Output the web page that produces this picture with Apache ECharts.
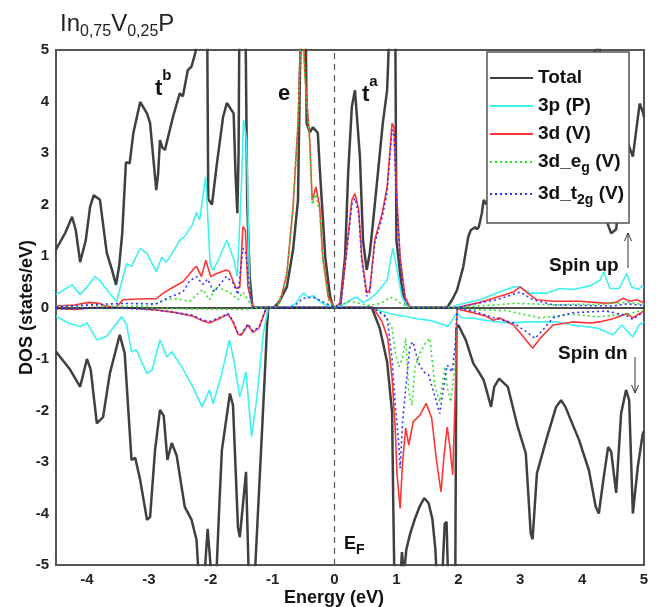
<!DOCTYPE html>
<html><head><meta charset="utf-8">
<script src="https://cdn.jsdelivr.net/npm/echarts@6/dist/echarts.min.js"></script>
<style>html,body{margin:0;padding:0;background:#fff}#c{width:656px;height:607px}</style>
</head><body><div id="c"></div><script>
// ---- data (energy eV, DOS states/eV) ----
const xTicks = [-4,-3,-2,-1,0,1,2,3,4,5];
const legendNames = ['Total','3p (P)','3d (V)','3d_eg (V)','3d_t2g (V)'];

const totalUp = [[-4.5,1.12],[-4.48,1.17],[-4.35,1.45],[-4.24,1.76],[-4.18,1.5],[-4.11,0.88],[-4.02,1.3],[-3.95,1.95],[-3.89,2.18],[-3.79,2.09],[-3.68,1.06],[-3.6,0.75],[-3.53,0.44],[-3.48,0.8],[-3.43,1.44],[-3.37,2.82],[-3.31,2.8],[-3.25,3.39],[-3.14,3.99],[-3.03,3.77],[-2.98,3.58],[-2.92,2.8],[-2.88,2.28],[-2.85,2.6],[-2.82,3.25],[-2.78,3.1],[-2.74,3.06],[-2.61,3.7],[-2.5,4.16],[-2.45,4.1],[-2.37,4.61],[-2.31,4.68],[-2.25,4.94],[-2.2,5.3],[-2.12,6.5],[-2.06,6.0],[-2.04,2.1],[-1.98,2.0],[-1.9,2.8],[-1.8,3.7],[-1.74,3.97],[-1.63,3.77],[-1.6,2.6],[-1.57,1.83],[-1.55,3.0],[-1.53,7.0],[-1.45,7.0],[-1.41,2.0],[-1.37,0.6],[-1.33,0.05],[-1.3,0],[-0.98,0],[-0.9,0.1],[-0.77,0.4],[-0.67,1.12],[-0.59,2.09],[-0.56,4.5],[-0.52,6.5],[-0.47,6.0],[-0.45,3.58],[-0.4,3.4],[-0.35,3.5],[-0.32,3.5],[-0.27,3.39],[-0.24,2.73],[-0.2,1.96],[-0.15,0.98],[-0.07,0.2],[-0.02,0],[0.09,0],[0.17,0.98],[0.22,2.6],[0.28,3.9],[0.33,4.22],[0.36,4.2],[0.41,2.93],[0.46,1.31],[0.52,0.73],[0.57,1.06],[0.62,1.63],[0.7,2.6],[0.78,3.58],[0.85,4.22],[0.88,5.2],[0.92,7.0],[0.98,6.0],[1.0,1.31],[1.09,0.34],[1.15,0.08],[1.22,0],[1.82,0],[1.9,0.15],[1.98,0.34],[2.08,0.79],[2.16,1.37],[2.2,1.5],[2.27,1.56],[2.3,1.52],[2.33,1.56],[2.38,1.83],[2.41,2.09],[2.45,2.0],[2.6,2.6],[2.8,3.2],[3.0,3.6],[3.3,4.0],[3.6,4.2],[3.9,4.5],[4.1,4.8],[4.28,5.1],[4.35,3.5],[4.42,1.6],[4.47,1.44],[4.55,1.52],[4.6,2.09],[4.74,3.19],[4.82,2.93],[4.93,3.96],[4.98,3.8],[5.0,3.7]];

const totalDn = [[-4.5,-0.85],[-4.48,-0.89],[-4.27,-1.21],[-4.11,-1.54],[-4.0,-1.0],[-3.94,-1.2],[-3.84,-2.25],[-3.74,-2.13],[-3.63,-1.28],[-3.47,-0.53],[-3.39,-0.89],[-3.28,-2.96],[-3.22,-2.92],[-3.14,-3.35],[-3.03,-4.12],[-2.98,-4.07],[-2.9,-2.77],[-2.82,-1.99],[-2.76,-2.1],[-2.7,-2.96],[-2.63,-2.63],[-2.55,-2.88],[-2.42,-3.87],[-2.31,-4.12],[-2.23,-4.51],[-2.18,-5.5],[-2.1,-5.2],[-2.05,-4.3],[-2.02,-4.27],[-1.97,-5.5],[-1.92,-5.5],[-1.86,-3.8],[-1.82,-2.77],[-1.69,-1.67],[-1.64,-1.9],[-1.56,-4.27],[-1.53,-4.46],[-1.43,-3.19],[-1.38,-5.5],[-1.3,-5.5],[-1.2,-3.09],[-1.12,-1.15],[-1.09,-0.35],[-1.07,0],[0.6,0],[0.73,-0.4],[0.85,-1.06],[0.93,-2.03],[0.95,-3.9],[0.97,-5.5],[1.06,-5.3],[1.09,-4.75],[1.12,-5.2],[1.16,-4.7],[1.22,-4.4],[1.3,-4.1],[1.38,-3.85],[1.45,-3.7],[1.52,-3.8],[1.58,-4.1],[1.63,-4.7],[1.66,-5.5],[1.73,-5.5],[1.78,-4.2],[1.81,-4.16],[1.84,-5.5],[1.95,-5.5],[1.97,-0.4],[2.0,-0.34],[2.12,-0.63],[2.24,-1.08],[2.33,-1.25],[2.41,-1.41],[2.53,-1.93],[2.58,-1.54],[2.66,-1.38],[2.8,-1.54],[2.96,-2.32],[3.09,-2.83],[3.17,-4.39],[3.2,-4.5],[3.27,-3.22],[3.42,-2.57],[3.58,-1.93],[3.66,-1.8],[3.73,-1.93],[3.95,-2.57],[4.11,-3.16],[4.22,-3.87],[4.27,-4.0],[4.35,-3.29],[4.42,-2.71],[4.47,-2.8],[4.55,-3.6],[4.63,-2.06],[4.71,-1.6],[4.76,-1.8],[4.82,-4.0],[4.9,-3.09],[4.98,-2.45],[5.0,-2.4]];

const pUp = [[-4.5,0.25],[-4.48,0.28],[-4.35,0.36],[-4.24,0.44],[-4.11,0.25],[-4.0,0.4],[-3.87,0.6],[-3.79,0.52],[-3.65,0.3],[-3.52,0.11],[-3.45,0.45],[-3.36,0.85],[-3.28,0.8],[-3.14,1.15],[-3.03,1.05],[-2.88,0.69],[-2.79,0.98],[-2.72,0.88],[-2.6,1.1],[-2.5,1.31],[-2.42,1.38],[-2.3,1.6],[-2.23,1.85],[-2.18,1.7],[-2.08,2.54],[-2.01,0.85],[-1.96,0.72],[-1.85,1.0],[-1.74,1.31],[-1.63,0.94],[-1.57,0.6],[-1.5,2.5],[-1.47,3.64],[-1.42,3.25],[-1.37,0.2],[-1.32,0],[-0.75,0],[-0.62,0.08],[-0.56,0.2],[-0.5,0.28],[-0.43,0.2],[-0.34,0.23],[-0.26,0.13],[-0.15,0.05],[0,0],[0.1,0.03],[0.2,0.1],[0.3,0.18],[0.36,0.2],[0.46,0.1],[0.55,0.15],[0.68,0.28],[0.85,0.53],[0.94,1.15],[1.0,0.8],[1.09,0.2],[1.2,0],[1.9,0],[1.98,0.05],[2.35,0.15],[2.62,0.28],[2.89,0.4],[3.0,0.4],[3.16,0.28],[3.43,0.28],[3.64,0.37],[3.85,0.35],[4.13,0.42],[4.29,0.53],[4.35,0.69],[4.45,0.37],[4.6,0.37],[4.72,0.66],[4.8,0.4],[4.91,0.35],[4.97,0.42],[5.0,0.4]];

const pDn = [[-4.5,-0.17],[-4.48,-0.18],[-4.3,-0.3],[-4.11,-0.37],[-4.0,-0.3],[-3.84,-0.63],[-3.68,-0.56],[-3.55,-0.35],[-3.44,-0.18],[-3.36,-0.33],[-3.28,-0.86],[-3.2,-0.82],[-3.1,-1.1],[-3.03,-1.28],[-2.95,-1.22],[-2.82,-0.63],[-2.71,-0.96],[-2.63,-0.86],[-2.47,-1.15],[-2.29,-1.54],[-2.14,-1.93],[-2.02,-1.6],[-1.96,-1.87],[-1.82,-1.28],[-1.7,-0.63],[-1.63,-1.0],[-1.53,-1.74],[-1.43,-1.25],[-1.34,-2.51],[-1.26,-1.8],[-1.15,-0.5],[-1.07,0],[0.57,0],[0.85,-0.1],[0.93,-0.13],[1.17,-0.18],[1.33,-0.22],[1.54,-0.25],[1.7,-0.31],[1.83,-0.37],[1.9,-0.25],[1.98,-0.1],[2.05,-0.2],[2.24,-0.21],[2.45,-0.25],[2.78,-0.3],[3.1,-0.28],[3.3,-0.28],[3.6,-0.28],[3.85,-0.34],[4.24,-0.4],[4.5,-0.53],[4.64,-0.34],[4.82,-0.57],[4.92,-0.34],[5.0,-0.28]];

const dUp = [[-4.5,0.03],[-4.2,0.05],[-3.97,0.1],[-3.8,0.08],[-3.7,0.03],[-3.53,0],[-3.42,0.15],[-3.05,0.17],[-2.88,0.17],[-2.77,0.28],[-2.67,0.35],[-2.45,0.5],[-2.29,0.73],[-2.23,0.8],[-2.15,0.6],[-2.08,0.92],[-2.0,0.6],[-1.92,0.65],[-1.75,0.73],[-1.7,0.7],[-1.59,0.37],[-1.53,0.4],[-1.48,1.57],[-1.44,1.5],[-1.4,0.4],[-1.32,0.03],[-1.28,0],[-0.93,0],[-0.85,0.25],[-0.77,0.66],[-0.67,1.96],[-0.59,3.58],[-0.55,5.2],[-0.51,5.6],[-0.48,4.55],[-0.4,3.25],[-0.37,2.34],[-0.36,2.08],[-0.3,2.34],[-0.24,1.96],[-0.19,0.98],[-0.1,0.2],[0,0],[0.1,0.1],[0.2,1.17],[0.28,2.09],[0.33,2.21],[0.39,1.9],[0.44,0.98],[0.52,0.28],[0.57,0.35],[0.65,1.31],[0.77,1.83],[0.85,2.34],[0.93,3.58],[0.96,3.5],[1.0,2.28],[1.06,0.98],[1.14,0.2],[1.22,0],[1.98,0],[2.35,0.1],[2.62,0.2],[2.89,0.3],[3.0,0.4],[3.1,0.3],[3.27,0.15],[3.54,0.12],[3.97,0.12],[4.4,0.08],[4.55,0.1],[4.66,0.18],[4.77,0.12],[4.88,0.15],[4.98,0.1],[5.0,0.1]];

const dDn = [[-4.5,-0.02],[-4.2,-0.04],[-3.9,0],[-3.42,0],[-3.2,-0.02],[-2.88,-0.05],[-2.56,-0.1],[-2.29,-0.17],[-2.13,-0.26],[-2.02,-0.3],[-1.87,-0.22],[-1.72,-0.13],[-1.64,-0.28],[-1.56,-0.52],[-1.51,-0.54],[-1.4,-0.34],[-1.32,-0.48],[-1.22,-0.4],[-1.1,0],[0.62,0],[0.77,-0.28],[0.86,-0.6],[0.93,-1.37],[0.98,-2.34],[1.01,-3.25],[1.06,-3.9],[1.1,-3.0],[1.15,-2.34],[1.2,-2.67],[1.27,-2.22],[1.38,-2.09],[1.48,-1.86],[1.57,-2.15],[1.65,-3.0],[1.72,-3.58],[1.77,-2.87],[1.82,-2.32],[1.86,-2.67],[1.91,-3.25],[1.95,-1.7],[1.98,0],[2.05,-0.05],[2.24,-0.1],[2.45,-0.17],[2.57,-0.25],[2.66,-0.2],[2.89,-0.34],[3.05,-0.57],[3.2,-0.79],[3.32,-0.6],[3.53,-0.34],[3.85,-0.28],[4.13,-0.3],[4.28,-0.28],[4.5,-0.22],[4.72,-0.12],[4.82,-0.2],[4.98,-0.08],[5.0,-0.08]];

const egUp = [[-4.5,0.02],[-4.0,0.04],[-3.5,0.02],[-3.0,0.03],[-2.72,0.15],[-2.56,0.17],[-2.34,0.12],[-2.13,0.35],[-2.02,0.15],[-1.92,0.4],[-1.7,0.3],[-1.56,0.15],[-1.48,0.3],[-1.4,0.15],[-1.32,0],[-0.93,0],[-0.85,0.25],[-0.77,0.64],[-0.67,1.9],[-0.59,3.5],[-0.55,5.1],[-0.51,5.5],[-0.48,4.45],[-0.4,3.15],[-0.37,2.25],[-0.36,2.0],[-0.3,2.2],[-0.24,1.85],[-0.19,0.9],[-0.1,0.15],[0,0],[0.1,0.05],[0.25,0.12],[0.4,0.08],[0.55,0.04],[0.75,0.08],[0.9,0.2],[1.0,0.15],[1.1,0.05],[1.22,0],[1.98,0],[2.3,0.03],[2.6,0.05],[2.89,0.08],[3.2,0.07],[3.5,0.05],[3.85,0.06],[4.3,0.06],[4.72,0.1],[5.0,0.06]];

const egDn = [[-4.5,-0.02],[-3.0,-0.02],[-2.0,-0.03],[-1.5,-0.04],[-1.1,0],[0.62,0],[0.82,-0.15],[0.93,-0.4],[0.98,-0.87],[1.04,-1.15],[1.1,-0.98],[1.15,-0.6],[1.2,-1.64],[1.25,-1.9],[1.3,-1.15],[1.38,-0.89],[1.48,-0.67],[1.54,-0.6],[1.62,-1.51],[1.7,-1.83],[1.78,-1.15],[1.83,-1.6],[1.88,-1.83],[1.95,-1.06],[1.98,0],[2.24,-0.04],[2.78,-0.06],[3.0,-0.12],[3.32,-0.2],[3.85,-0.13],[4.24,-0.18],[4.72,-0.13],[5.0,-0.05]];

const t2gUp = [[-4.5,0.01],[-3.97,0.05],[-3.42,0.08],[-2.88,0.07],[-2.67,0.2],[-2.45,0.3],[-2.34,0.52],[-2.23,0.6],[-2.13,0.45],[-2.05,0.55],[-1.95,0.3],[-1.75,0.6],[-1.64,0.48],[-1.56,0.25],[-1.48,1.15],[-1.43,1.05],[-1.37,0.28],[-1.32,0],[-0.7,0],[-0.6,0.08],[-0.51,0.18],[-0.34,0.2],[-0.2,0.12],[0,0],[0.1,0.08],[0.2,1.1],[0.28,2.0],[0.33,2.12],[0.39,1.82],[0.44,0.9],[0.52,0.22],[0.57,0.3],[0.65,1.25],[0.77,1.75],[0.85,2.25],[0.93,3.45],[0.96,3.38],[1.0,2.15],[1.06,0.9],[1.14,0.15],[1.22,0],[1.98,0],[2.3,0.08],[2.62,0.15],[3.0,0.3],[3.21,0.15],[3.54,0.05],[4.0,0.04],[4.5,0.03],[4.72,0.07],[5.0,0.04]];

const t2gDn = [[-4.5,-0.02],[-4.2,-0.03],[-3.9,-0.01],[-3.42,-0.01],[-2.88,-0.05],[-2.56,-0.1],[-2.29,-0.15],[-2.13,-0.24],[-2.02,-0.27],[-1.87,-0.2],[-1.72,-0.12],[-1.64,-0.26],[-1.56,-0.5],[-1.51,-0.52],[-1.4,-0.32],[-1.32,-0.46],[-1.22,-0.38],[-1.1,0],[0.62,0],[0.85,-0.2],[0.93,-1.0],[0.98,-1.86],[1.04,-2.67],[1.06,-3.12],[1.1,-2.22],[1.15,-1.56],[1.22,-0.73],[1.27,-0.67],[1.35,-1.06],[1.44,-1.25],[1.52,-1.31],[1.6,-1.64],[1.7,-2.06],[1.76,-1.57],[1.82,-1.12],[1.9,-1.25],[1.95,-0.73],[1.98,0],[2.24,-0.07],[2.57,-0.2],[2.89,-0.3],[3.1,-0.47],[3.24,-0.6],[3.32,-0.5],[3.53,-0.2],[3.85,-0.1],[4.4,-0.07],[4.72,-0.16],[4.82,-0.23],[5.0,-0.08]];

// ---- styles ----
const FONT = 'Liberation Sans, Arial, sans-serif';
const C = {total:'#404040', p:'#3ef2f2', d:'#ff3535', eg:'#2ee02e', t2g:'#3030ff'};

function line(name, data, color, width, type, z){
  return {name, type:'line', data, symbol:'none', showSymbol:false, clip:true, z,
    lineStyle:{color, width, type}, itemStyle:{color}, emphasis:{disabled:true}};
}

const chart = echarts.init(document.getElementById('c'), null, {renderer:'canvas'});
const legendFmt = {
  'Total':'{m|Total}',
  '3p (P)':'{m|3p (P)}',
  '3d (V)':'{m|3d (V)}',
  '3d_eg (V)':'{m|3d_e}{s|g}{m| (V)}',
  '3d_t2g (V)':'{m|3d_t}{s|2g}{m| (V)}'
};

chart.setOption({
  animation:false,
  backgroundColor:'#fff',
  textStyle:{fontFamily:FONT},
  grid:{left:56, right:12, top:50, bottom:42, show:true, borderColor:'#555', borderWidth:2, outerBoundsMode:'none', containLabel:false},
  xAxis:{type:'value', min:-4.5, max:5, interval:0.5,
    axisLine:{show:false, onZero:false}, axisTick:{show:false}, splitLine:{show:false},
    axisLabel:{margin:7, fontSize:15, fontWeight:'bold', color:'#222', fontFamily:FONT,
      formatter:v => xTicks.includes(v) ? String(v) : ''}},
  yAxis:{type:'value', min:-5, max:5, interval:1,
    axisLine:{show:false, onZero:false}, axisTick:{show:false}, splitLine:{show:false},
    axisLabel:{margin:7, fontSize:15, fontWeight:'bold', color:'#222', fontFamily:FONT},
    name:'DOS (states/eV)', nameLocation:'middle', nameGap:20, nameMoveOverlap:false,
    nameTextStyle:{fontSize:18, fontWeight:'bold', color:'#111', fontFamily:FONT}},
  legend:{data:legendNames, orient:'vertical', left:487, top:52, selectedMode:false,
    padding:[16,5,16,2], itemGap:9, itemWidth:43, itemHeight:14,
    backgroundColor:'#fff', borderColor:'#555', borderWidth:1.5,
    itemStyle:{opacity:0},
    formatter:n => legendFmt[n],
    textStyle:{fontFamily:FONT, rich:{
      m:{fontSize:19, fontWeight:'bold', color:'#111', lineHeight:20, verticalAlign:'top', fontFamily:FONT},
      s:{fontSize:14, fontWeight:'bold', color:'#111', lineHeight:14, padding:[9,0,0,0], verticalAlign:'top', fontFamily:FONT}
    }}},
  series:[
    line('Total', totalUp, C.total, 2.5, 'solid', 2),
    line('Total dn', totalDn, C.total, 2.5, 'solid', 2),
    line('3p (P)', pUp, C.p, 1.6, 'solid', 3),
    line('3p dn', pDn, C.p, 1.6, 'solid', 3),
    line('3d (V)', dUp, C.d, 1.6, 'solid', 4),
    line('3d dn', dDn, C.d, 1.6, 'solid', 4),
    line('3d_eg (V)', egUp, C.eg, 1.6, [2,3], 5),
    line('eg dn', egDn, C.eg, 1.6, [2,3], 5),
    line('3d_t2g (V)', t2gUp, C.t2g, 1.6, [2,3], 6),
    line('t2g dn', t2gDn, C.t2g, 1.6, [2,3], 6),
    {name:'ref', type:'line', data:[], z:7, markLine:{silent:true, symbol:'none', label:{show:false}, animation:false,
      data:[
        {yAxis:0, lineStyle:{color:'#111', width:1.5, type:'solid'}},
        {xAxis:0, lineStyle:{color:'#555', width:1.2, type:[6,5]}}
      ]}}
  ],
  graphic:[
    {type:'text', x:60, y:12, z:100, style:{text:'{m|In}{s|0,75}{m|V}{s|0,25}{m|P}', verticalAlign:'top', rich:{
      m:{fontSize:24, lineHeight:24, verticalAlign:'top', fill:'#222', fontFamily:FONT},
      s:{fontSize:16, lineHeight:16, padding:[12,0,0,0], verticalAlign:'top', fill:'#222', fontFamily:FONT}}}},
    {type:'text', x:155, y:68, z:100, style:{text:'{m|t}{s|b}', verticalAlign:'top', rich:{
      m:{fontSize:22, fontWeight:'bold', lineHeight:22, padding:[10,0,0,0], verticalAlign:'top', fill:'#111', fontFamily:FONT},
      s:{fontSize:15, fontWeight:'bold', lineHeight:15, verticalAlign:'top', fill:'#111', fontFamily:FONT}}}},
    {type:'text', x:362, y:74, z:100, style:{text:'{m|t}{s|a}', verticalAlign:'top', rich:{
      m:{fontSize:22, fontWeight:'bold', lineHeight:22, padding:[10,0,0,0], verticalAlign:'top', fill:'#111', fontFamily:FONT},
      s:{fontSize:15, fontWeight:'bold', lineHeight:15, verticalAlign:'top', fill:'#111', fontFamily:FONT}}}},
    {type:'text', x:278, y:104.6, z:100, style:{text:'e', fontSize:22, fontWeight:'bold', fill:'#111', fontFamily:FONT, verticalAlign:'bottom'}},
    {type:'text', x:549, y:275, z:100, style:{text:'Spin up', fontSize:19, fontWeight:'bold', fill:'#111', fontFamily:FONT, verticalAlign:'bottom'}},
    {type:'text', x:558, y:363, z:100, style:{text:'Spin dn', fontSize:19, fontWeight:'bold', fill:'#111', fontFamily:FONT, verticalAlign:'bottom'}},
    {type:'text', x:344, y:535, z:100, style:{text:'{m|E}{s|F}', verticalAlign:'top', rich:{
      m:{fontSize:18, fontWeight:'bold', lineHeight:18, verticalAlign:'top', fill:'#111', fontFamily:FONT},
      s:{fontSize:14, fontWeight:'bold', lineHeight:14, padding:[8,0,0,0], verticalAlign:'top', fill:'#111', fontFamily:FONT}}}},
    {type:'text', x:334, y:607, z:100, style:{text:'Energy (eV)', fontSize:18, fontWeight:'bold', fill:'#111', fontFamily:FONT, align:'center', verticalAlign:'bottom'}},
    {type:'polyline', z:100, shape:{points:[[628,268],[628,233]]}, style:{stroke:'#333', lineWidth:1, fill:null}},
    {type:'polyline', z:100, shape:{points:[[624.5,241],[628,233],[631.5,241]]}, style:{stroke:'#333', lineWidth:1, fill:null}},
    {type:'polyline', z:100, shape:{points:[[635,357],[635,393]]}, style:{stroke:'#333', lineWidth:1, fill:null}},
    {type:'polyline', z:100, shape:{points:[[631.5,385],[635,393],[638.5,385]]}, style:{stroke:'#333', lineWidth:1, fill:null}}
  ]
});
</script></body></html>
